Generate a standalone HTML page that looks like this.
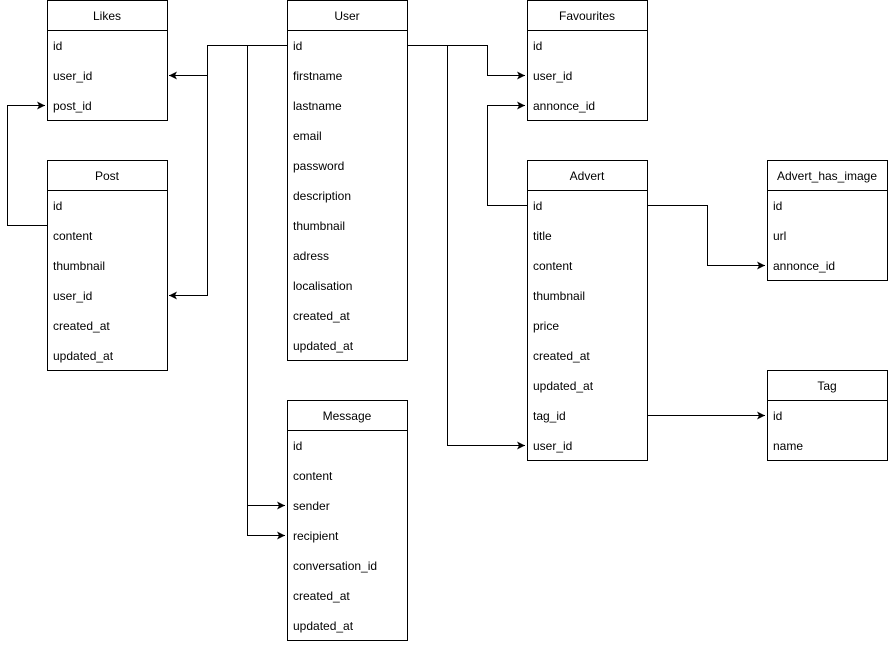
<!DOCTYPE html>
<html><head><meta charset="utf-8"><style>
body{margin:0;background:#fff;}
text{font-family:"Liberation Sans",Arial,sans-serif;font-size:12px;fill:#000;}
rect{fill:#fff;stroke:#000;}
.h{text-anchor:middle;}
</style></head><body>
<svg width="888" height="641" viewBox="0 0 888 641" xmlns="http://www.w3.org/2000/svg">
<defs><marker id="a" markerWidth="10" markerHeight="10" refX="8" refY="5" orient="auto" markerUnits="userSpaceOnUse"><path d="M0,1 L8,5 L0,9 L2,5 Z" fill="#000"/></marker></defs>
<g fill="none" stroke="#000" stroke-width="1">
<path d="M287.5,45.5 H207.5 V75.5 H169" marker-end="url(#a)"/>
<path d="M207.5,45.5 V295.5 H169" marker-end="url(#a)"/>
<path d="M247.5,45.5 V505.5 H285" marker-end="url(#a)"/>
<path d="M247.5,505.5 V535.5 H285" marker-end="url(#a)"/>
<path d="M47.5,225.5 H7.5 V105.5 H45" marker-end="url(#a)"/>
<path d="M407.5,45.5 H487.5 V75.5 H525" marker-end="url(#a)"/>
<path d="M447.5,45.5 V445.5 H525" marker-end="url(#a)"/>
<path d="M527.5,205.5 H487.5 V105.5 H525" marker-end="url(#a)"/>
<path d="M647.5,205.5 H707.5 V265.5 H765" marker-end="url(#a)"/>
<path d="M647.5,415.5 H765" marker-end="url(#a)"/>
</g>

<!-- Likes -->
<rect x="47.5" y="0.5" width="120" height="120"/><line x1="47" y1="30.5" x2="168" y2="30.5" stroke="#000"/>
<text class="h" x="107" y="20">Likes</text>
<text x="53" y="50">id</text><text x="53" y="80">user_id</text><text x="53" y="110">post_id</text>

<!-- Post -->
<rect x="47.5" y="160.5" width="120" height="210"/><line x1="47" y1="190.5" x2="168" y2="190.5" stroke="#000"/>
<text class="h" x="107" y="180">Post</text>
<text x="53" y="210">id</text><text x="53" y="240">content</text><text x="53" y="270">thumbnail</text><text x="53" y="300">user_id</text><text x="53" y="330">created_at</text><text x="53" y="360">updated_at</text>

<!-- User -->
<rect x="287.5" y="0.5" width="120" height="360"/><line x1="287" y1="30.5" x2="408" y2="30.5" stroke="#000"/>
<text class="h" x="347" y="20">User</text>
<text x="293" y="50">id</text><text x="293" y="80">firstname</text><text x="293" y="110">lastname</text><text x="293" y="140">email</text><text x="293" y="170">password</text><text x="293" y="200">description</text><text x="293" y="230">thumbnail</text><text x="293" y="260">adress</text><text x="293" y="290">localisation</text><text x="293" y="320">created_at</text><text x="293" y="350">updated_at</text>

<!-- Message -->
<rect x="287.5" y="400.5" width="120" height="240"/><line x1="287" y1="430.5" x2="408" y2="430.5" stroke="#000"/>
<text class="h" x="347" y="420">Message</text>
<text x="293" y="450">id</text><text x="293" y="480">content</text><text x="293" y="510">sender</text><text x="293" y="540">recipient</text><text x="293" y="570">conversation_id</text><text x="293" y="600">created_at</text><text x="293" y="630">updated_at</text>

<!-- Favourites -->
<rect x="527.5" y="0.5" width="120" height="120"/><line x1="527" y1="30.5" x2="648" y2="30.5" stroke="#000"/>
<text class="h" x="587" y="20">Favourites</text>
<text x="533" y="50">id</text><text x="533" y="80">user_id</text><text x="533" y="110">annonce_id</text>

<!-- Advert -->
<rect x="527.5" y="160.5" width="120" height="300"/><line x1="527" y1="190.5" x2="648" y2="190.5" stroke="#000"/>
<text class="h" x="587" y="180">Advert</text>
<text x="533" y="210">id</text><text x="533" y="240">title</text><text x="533" y="270">content</text><text x="533" y="300">thumbnail</text><text x="533" y="330">price</text><text x="533" y="360">created_at</text><text x="533" y="390">updated_at</text><text x="533" y="420">tag_id</text><text x="533" y="450">user_id</text>

<!-- Advert_has_image -->
<rect x="767.5" y="160.5" width="120" height="120"/><line x1="767" y1="190.5" x2="888" y2="190.5" stroke="#000"/>
<text class="h" x="827" y="180">Advert_has_image</text>
<text x="773" y="210">id</text><text x="773" y="240">url</text><text x="773" y="270">annonce_id</text>

<!-- Tag -->
<rect x="767.5" y="370.5" width="120" height="90"/><line x1="767" y1="400.5" x2="888" y2="400.5" stroke="#000"/>
<text class="h" x="827" y="390">Tag</text>
<text x="773" y="420">id</text><text x="773" y="450">name</text>
</svg>
</body></html>
